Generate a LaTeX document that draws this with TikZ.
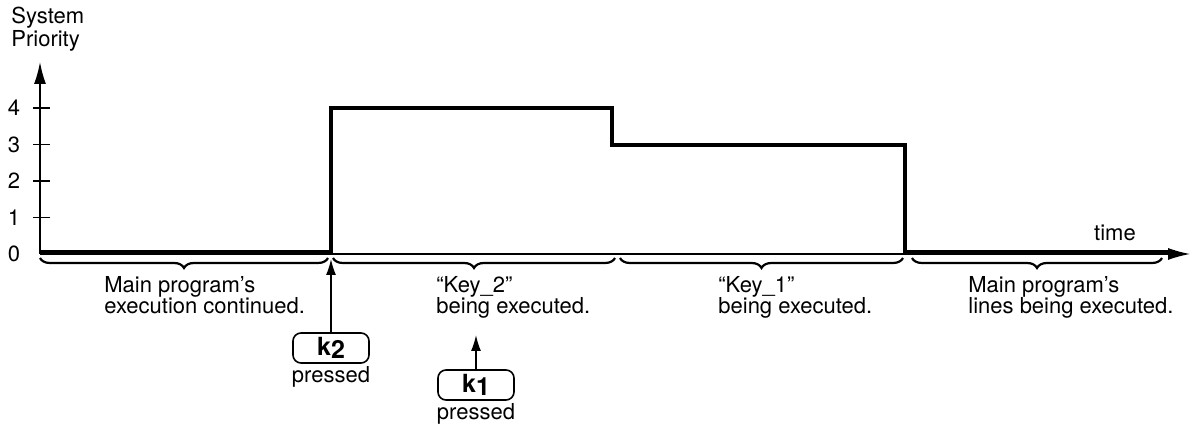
\documentclass[tikz,border=0pt]{standalone}
\usepackage{fontspec}
\setmainfont{TeX Gyre Heros}
\usetikzlibrary{arrows.meta,decorations.pathreplacing,positioning}

\begin{document}
\begin{tikzpicture}[x=0.5pt,y=0.5pt,font=\fontsize{11}{11.5}\selectfont,
    brc/.style={decorate,decoration={brace,mirror,amplitude=5pt},line width=1.1pt},
    keybox/.style={draw,thick,rounded corners=4pt,minimum width=38pt,minimum height=15pt,
        inner sep=0pt,font=\fontsize{12.5}{12.5}\selectfont\bfseries},
    txt/.style={align=left,anchor=north west,inner sep=0pt}]
    \useasboundingbox (-40,-172) rectangle (1155,254);
    \coordinate (O) at (0,0);
    
    % axes
    \coordinate (Ytop) at (0,192); \coordinate (Xend) at (1150,0);
    \draw[thick,-{Latex[length=11pt,width=6pt]}] (O) -- (Ytop);
    \draw[semithick,-{Latex[length=11pt,width=6pt]}] (O) -- (Xend);
    \foreach \k in {1,...,4} {\draw[semithick] (-7,\k*36.5) -- (10,\k*36.5);}
    \foreach \k in {0,...,4} {\node (t\k) at (-26,\k*36.5) {\k};}
    \node[align=left,anchor=west,inner sep=0pt] (ylab) at (-29,225) {System\\Priority};
    \node (xlab) at (1075,21) {time};
    
    % priority level
    \coordinate (P0) at (0,1.5); \coordinate (P1) at (291,1.5);
    \coordinate (P2) at (291,146); \coordinate (P3) at (572,146);
    \coordinate (P4) at (572,109); \coordinate (P5) at (865,109);
    \coordinate (P6) at (865,1.5); \coordinate (P7) at (1135,1.5);
    \draw[line width=2pt] (P0) -- (P1) -- (P2) -- (P3) -- (P4) -- (P5) -- (P6) -- (P7);
    
    % phases
    \draw[brc] (0,-4) -- (288,-4); % main
    \draw[brc] (293,-4) -- (575,-4); % key 2
    \draw[brc] (580,-4) -- (863,-4); % key 1
    \draw[brc] (872,-4) -- (1122,-4); % main again
    \node[txt] (m1) at (64,-22) {Main program's\\[-1pt]execution continued.};
    \node[txt] (k2run) at (396,-22) {“Key\_2”\\[-1pt]being executed.};
    \node[txt] (k1run) at (678,-22) {“Key\_1”\\[-1pt]being executed.};
    \node[txt] (m2) at (928,-22) {Main program's\\[-1pt]lines being executed.};
    
    % keys
    \node[keybox] (k2) at (291,-94) {k\raisebox{-0.25ex}{2}};
    \node[below=1pt of k2,inner sep=0pt] (k2p) {pressed};
    \node[keybox] (k1) at (436,-131) {k\raisebox{-0.25ex}{1}};
    \node[below=1pt of k1,inner sep=0pt] (k1p) {pressed};
    \coordinate (k2tip) at (291,-5); \coordinate (k1tip) at (436,-81);
    \draw[thick,-{Latex[length=8pt,width=5pt]}] (k2) -- (k2tip);
    \draw[thick,-{Latex[length=8pt,width=5pt]}] (k1) -- (k1tip);
\end{tikzpicture}
\end{document}
